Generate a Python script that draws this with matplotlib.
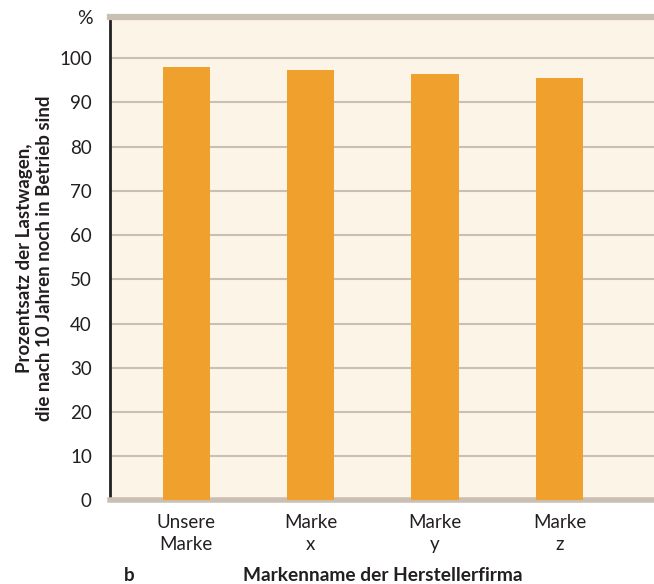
import numpy as np
import matplotlib.pyplot as plt

# data
brands = ['Unsere\nMarke', 'Marke\nx', 'Marke\ny', 'Marke\nz']
percent = [98.0, 97.3, 96.4, 95.5]
yticks = [0, 10, 20, 30, 40, 50, 60, 70, 80, 90, 100]

plt.rcParams['font.family'] = ['Lato', 'DejaVu Sans']

fig = plt.figure(figsize=(6.54, 5.84), dpi=100)
fig.patch.set_facecolor('w')
ax = fig.add_axes([0.168, 0.143, 0.832, 0.828])
ax.set_facecolor('#fdf4e8')

x = np.arange(len(brands))
ax.bar(x, percent, width=0.38, color='#f0a02c', zorder=3)

ax.set_xlim(-0.615, 3.76)
ax.set_ylim(0, 109.3)
ax.set_yticks(yticks)
ax.set_yticklabels([str(t) for t in yticks], fontsize=13.5, color='#231f20')
ax.set_xticks(x)
ax.set_xticklabels(brands, fontsize=13.5, color='#231f20', linespacing=1.3)
ax.tick_params(axis='both', length=0)
ax.tick_params(axis='y', pad=13)
ax.tick_params(axis='x', pad=10)

ax.yaxis.grid(True, color='#cbbfb3', linewidth=1.5, zorder=1)
ax.set_axisbelow(True)

ax.spines['right'].set_visible(False)
ax.spines['left'].set_color('#231f20')
ax.spines['left'].set_linewidth(2)
ax.spines['top'].set_color('#cbbfb3')
ax.spines['top'].set_linewidth(4.5)
ax.spines['bottom'].set_color('#cbbfb3')
ax.spines['bottom'].set_linewidth(4)

ax.set_ylabel('Prozentsatz der Lastwagen,\ndie nach 10 Jahren noch in Betrieb sind',
              fontsize=13.5, fontweight='bold', color='#231f20',
              linespacing=1.2)
ax.yaxis.set_label_coords(-0.105, 0.5)

fig.text(0.13, 0.968, '%', fontsize=14, color='#231f20', ha='center', va='center')
fig.text(0.19, 0.0, 'b', fontsize=13.5, fontweight='bold', color='#231f20', ha='left', va='bottom')
fig.text(0.585, 0.0, 'Markenname der Herstellerfirma', fontsize=13.8, fontweight='bold',
         color='#231f20', ha='center', va='bottom')

plt.savefig('out.png', dpi=100)
plt.close()
